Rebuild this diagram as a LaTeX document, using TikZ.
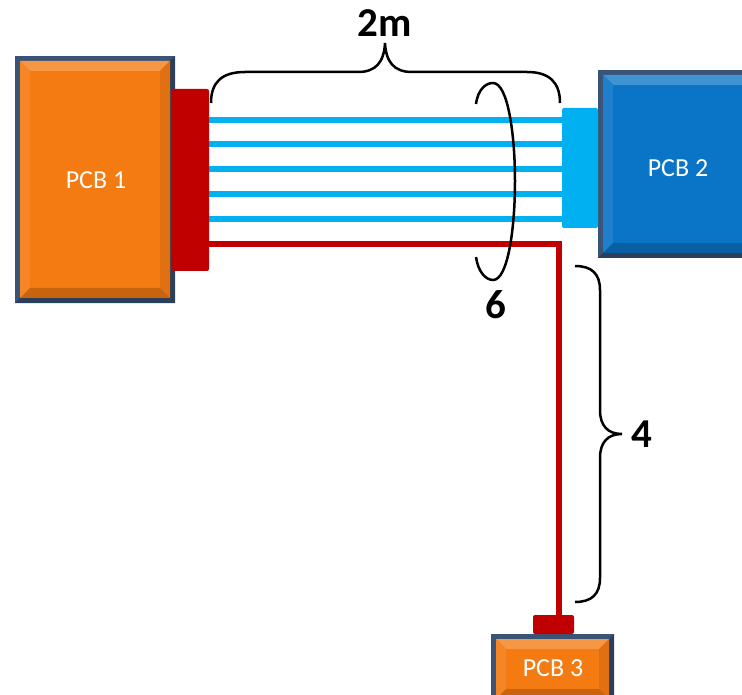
\documentclass[tikz,border=0pt]{standalone}
\usepackage{fontspec}
\setmainfont{Carlito}
\definecolor{pcborange}{HTML}{F47A12}
\definecolor{pcbblue}{HTML}{0A74C6}
\definecolor{pcbedge}{HTML}{3A5478}
\definecolor{conred}{HTML}{C00000}
\definecolor{conblue}{HTML}{00B0F0}
% bevelled board: x1 y1 x2 y2 colour
\newcommand\bevelbox[5]{%
  \fill[pcbedge] (#1,#2) rectangle (#3,#4);
  \fill[pcbedge!75!black] (#1+5,#4-5) -- (#3-5,#4-5) -- (#3-5,#2+5) -- (#3,#2) -- (#3,#4) -- (#1,#4) -- cycle;
  \fill[#5] (#1+5,#2+5) rectangle (#3-5,#4-5);
  \fill[#5!78!white] (#1+5,#2+5) -- (#3-5,#2+5) -- (#3-15,#2+15) -- (#1+15,#2+15) -- cycle;
  \fill[#5!92!white] (#1+5,#2+5) -- (#1+15,#2+15) -- (#1+15,#4-15) -- (#1+5,#4-5) -- cycle;
  \fill[#5!92!black] (#3-5,#2+5) -- (#3-15,#2+15) -- (#3-15,#4-15) -- (#3-5,#4-5) -- cycle;
  \fill[#5!82!black] (#1+5,#4-5) -- (#1+15,#4-15) -- (#3-15,#4-15) -- (#3-5,#4-5) -- cycle;
}
\tikzset{
  pcblabel/.style={text=white, font=\fontsize{26}{30}\selectfont, inner sep=0pt},
  biglabel/.style={text=black, font=\fontsize{41}{46}\selectfont\bfseries, inner sep=0pt},
  redcon/.style={fill=conred, rounded corners=2pt, inner sep=0pt, outer sep=0pt},
  bluecon/.style={fill=conblue, rounded corners=2pt, inner sep=0pt, outer sep=0pt},
  bluecable/.style={draw=conblue, line width=6.5pt},
  redcable/.style={draw=conred, line width=6pt, line join=miter},
  markline/.style={draw=black, line width=2.5pt}
}
\begin{document}
\begin{tikzpicture}[x=1pt,y=-1pt]
\useasboundingbox (0,0) rectangle (742,695);
% boards
\bevelbox{15}{56}{175}{303}{pcborange}
\begin{scope}
  \clip (0,0) rectangle (742,695);
  \bevelbox{598}{70}{758}{258}{pcbblue}
  \bevelbox{491}{634}{614}{704}{pcborange}
\end{scope}
\node[pcblabel] (pcb1) at (96,180) {PCB 1};
\node[pcblabel] (pcb2) at (678,168) {PCB 2};
\node[pcblabel] (pcb3) at (553,668) {PCB 3};
% connectors
\node[redcon, minimum width=37pt, minimum height=182pt] (con1) at (190.5,180) {};
\node[bluecon, minimum width=36pt, minimum height=120pt] (con2) at (580,168) {};
\node[redcon, minimum width=41pt, minimum height=19pt] (con3) at (553.5,624.5) {};
% cables
\foreach \yy in {120,144,169,194,219}
  \draw[bluecable] (con1.east |- 0,\yy) -- (con2.west |- 0,\yy);
\coordinate (bend) at (559,244);
\draw[redcable] (con1.east |- bend) -- ([xshift=3pt]bend) ;
\draw[redcable] ([yshift=-3pt]bend) -- (bend |- con3.north);
% bundle ellipse
\draw[markline] (476,104) .. controls (478,89) and (486,83) .. (493,83)
  .. controls (508,83) and (515,135) .. (515,181)
  .. controls (515,228) and (508,280) .. (493,280)
  .. controls (486,280) and (478,272) .. (476,257);
\node[biglabel] (n6) at (496,305) {6};
% top brace
\draw[markline] (211,103) .. controls (211,82) and (222,72) .. (245,72) -- (358,72)
  .. controls (376,72) and (384,62) .. (385,43)
  .. controls (386,62) and (394,72) .. (412,72) -- (527,72)
  .. controls (549,72) and (560,82) .. (560,103);
\node[biglabel] (n2m) at (385,23.5) {2m};
% right brace
\draw[markline] (575,266) .. controls (592,266) and (600,274) .. (600,290) -- (600,410)
  .. controls (600,426) and (608,434) .. (622,434)
  .. controls (608,434) and (600,442) .. (600,458) -- (600,578)
  .. controls (600,594) and (592,602) .. (575,602);
\node[biglabel] (n4) at (642,434) {4};
\end{tikzpicture}
\end{document}
